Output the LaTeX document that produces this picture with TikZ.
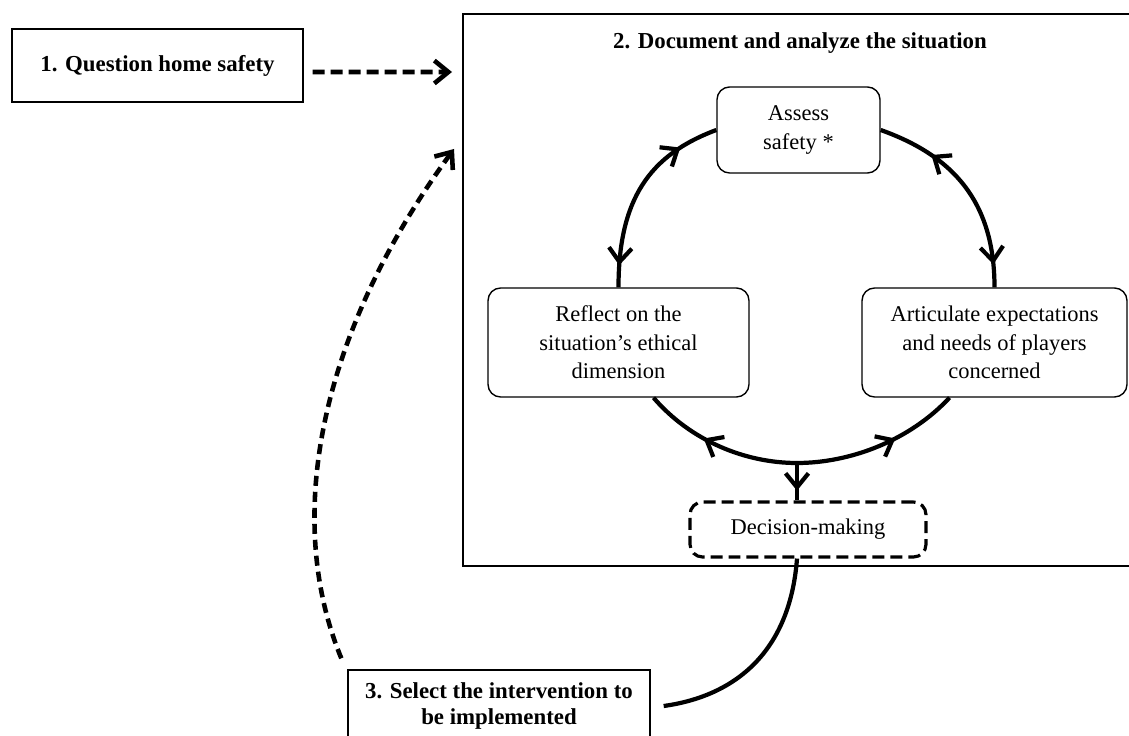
\documentclass[tikz,border=0pt]{standalone}
\usepackage{fontspec}
\setmainfont{Liberation Serif}
\usetikzlibrary{arrows.meta}
\usetikzlibrary{calc}
\usetikzlibrary{decorations.markings}

\begin{document}
\begin{tikzpicture}[x=0.02cm,y=-0.02cm,
		stepbox/.style={draw, line width=0.8pt, align=center, inner sep=0pt,
			font=\fontsize{13}{14.8}\selectfont\bfseries},
		phase/.style={draw, line width=0.8pt, rounded corners=0.25cm, align=center, inner sep=0pt,
			font=\fontsize{12.8}{16.2}\selectfont},
		cyc/.style={line width=2.4pt},
		both marks/.style 2 args={postaction={decorate}, decoration={markings,
				mark=at position #1 with {\arrowreversed[line width=2.4pt]{Straight Barb[length=8pt,width=13pt]}},
				mark=at position #2 with {\arrow[line width=2.4pt]{Straight Barb[length=8pt,width=13pt]}}}},
		back mark/.style={postaction={decorate}, decoration={markings,
				mark=at position #1 with {\arrowreversed[line width=2.4pt]{Straight Barb[length=8pt,width=13pt]}}}},
		fwd mark/.style={postaction={decorate}, decoration={markings,
				mark=at position #1 with {\arrow[line width=2.4pt]{Straight Barb[length=8pt,width=13pt]}}}},
		dasharrow/.style={line width=2.6pt, dash pattern=on 0.24cm off 0.12cm, -{Straight Barb[length=8pt,width=13pt]}}
	]
	
	\useasboundingbox (0,0) rectangle (1129,736);
	
	% the three steps
	\node[stepbox, minimum width=5.82cm, minimum height=1.46cm] (question) at (157.5,65.5) {1. Question home safety};
	\node[draw, line width=0.8pt, inner sep=0pt, minimum width=13.64cm, minimum height=11.04cm] (analyze) at (804,290) {};
	\node[font=\fontsize{13}{15}\selectfont\bfseries] (title) at (800,43) {2. Document and analyze the situation};
	\node[stepbox, minimum width=6.04cm, minimum height=1.44cm] (select) at (499,706) {3. Select the intervention to\\be implemented};
	
	% the cycle inside step 2
	\node[phase, minimum width=3.26cm, minimum height=1.72cm] (assess) at (798.5,130) {Assess\\safety *};
	\node[phase, minimum width=5.22cm, minimum height=2.18cm] (reflect) at (618.5,342.5) {Reflect on the\\situation’s ethical\\dimension};
	\node[phase, minimum width=5.3cm, minimum height=2.18cm] (articulate) at (994.5,342.5) {Articulate expectations\\and needs of players\\concerned};
	\node[phase, line width=1.8pt, dash pattern=on 0.24cm off 0.12cm, minimum width=4.72cm, minimum height=1.1cm] (decision) at (808,529.5) {Decision-making};
	
	% free ends
	\coordinate (hub) at (797,463);
	\coordinate (fwdin) at (452,72);
	\coordinate (backin) at (454,149);
	
	% arcs of the cycle
	\draw[cyc, both marks={0.11}{0.8}] (reflect.north) .. controls +(0,-88) and +(-67,25) .. (assess.west);
	\draw[cyc, both marks={0.27}{0.89}] (assess.east) .. controls +(70,25) and +(0,-88) .. (articulate.north);
	\draw[cyc, back mark=0.4] ([xshift=0.7cm]reflect.south) .. controls +(37,43) and +(-52,0) .. (hub);
	\draw[cyc, fwd mark=0.6] (hub) .. controls +(53,0) and +(-40,43) .. ([xshift=-0.9cm]articulate.south);
	\draw[cyc, fwd mark=0.74] (hub) -- (hub |- decision.north);
	
	% links between the steps
	\draw[dasharrow] ([shift={(0.18cm,-0.13cm)}]question.east) -- (fwdin);
	\draw[cyc] (hub |- decision.south) .. controls +(-7,93) and +(72,-10) .. ([xshift=0.26cm]select.east);
	\draw[dasharrow, dash pattern=on 0.2cm off 0.12cm] ([shift={(-0.12cm,0.22cm)}]select.north west) .. controls +(-58,-140) and +(-135,185) .. (backin);
	
\end{tikzpicture}
\end{document}
